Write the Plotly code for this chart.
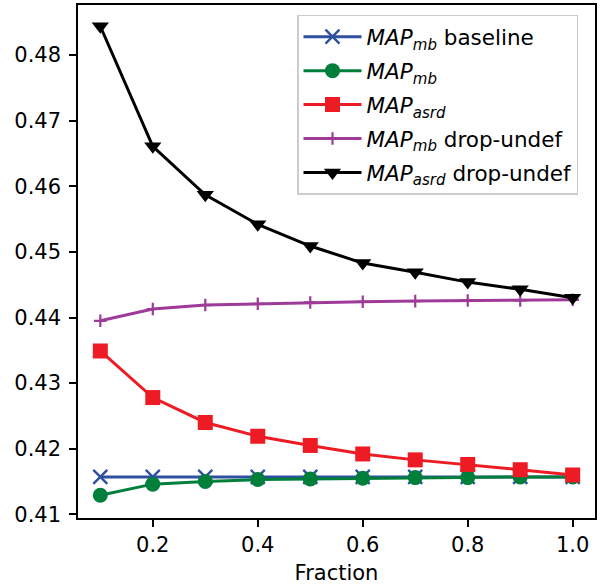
import plotly.graph_objects as go

fraction = [0.1, 0.2, 0.3, 0.4, 0.5, 0.6, 0.7, 0.8, 0.9, 1.0]
map_mb_baseline = [0.4157] * 10
map_mb = [0.4129, 0.4146, 0.4150, 0.4153, 0.4154, 0.4155, 0.4156, 0.4156, 0.4157, 0.4157]
map_asrd = [0.4349, 0.4278, 0.4240, 0.4219, 0.4205, 0.4192, 0.4183, 0.4176, 0.4168, 0.4160]
map_mb_drop = [0.4395, 0.4413, 0.4419, 0.4421, 0.4423, 0.4424, 0.4425, 0.4426, 0.4426, 0.4427]
map_asrd_drop = [0.4844, 0.4661, 0.4587, 0.4542, 0.4509, 0.4483, 0.4469, 0.4454, 0.4443, 0.4430]

x_ticks = [0.2, 0.4, 0.6, 0.8, 1.0]
y_ticks = [0.41, 0.42, 0.43, 0.44, 0.45, 0.46, 0.47, 0.48]

series = [
    ("<i>MAP</i><sub><i>mb</i></sub> baseline", map_mb_baseline, "#2F4FA0",
     dict(symbol="x-thin", size=14, line=dict(width=2.4, color="#2F4FA0"))),
    ("<i>MAP</i><sub><i>mb</i></sub>", map_mb, "#007F3B",
     dict(symbol="circle", size=15, line=dict(width=0))),
    ("<i>MAP</i><sub><i>asrd</i></sub>", map_asrd, "#ED1C24",
     dict(symbol="square", size=15, line=dict(width=0))),
    ("<i>MAP</i><sub><i>mb</i></sub> drop-undef", map_mb_drop, "#9E3A98",
     dict(symbol="cross-thin", size=9, line=dict(width=2.2, color="#9E3A98"))),
    ("<i>MAP</i><sub><i>asrd</i></sub> drop-undef", map_asrd_drop, "#000000",
     dict(symbol="triangle-down", size=15, line=dict(width=0))),
]

fig = go.Figure()
for i, (name, ys, color, mk) in enumerate(series):
    mk = dict(mk)
    mk["color"] = color
    fig.add_trace(go.Scatter(
        x=fraction, y=ys, mode="lines+markers", name=name,
        line=dict(color=color, width=3), marker=mk,
        legendgroup=f"g{i}",
    ))

axis_common = dict(
    showline=True, linecolor="black", linewidth=1.5, mirror=True,
    ticks="outside", ticklen=7, tickwidth=1.5, tickcolor="black",
    showgrid=False, zeroline=False, automargin=False,
    tickfont=dict(size=21, color="black", family="DejaVu Sans"),
)

fig.update_xaxes(range=[0.0575, 1.0425], tickvals=x_ticks,
                 ticktext=[f"{v:.1f}" for v in x_ticks], ticklabelstandoff=0,
                 title=dict(text="Fraction", font=dict(size=21, color="black", family="DejaVu Sans")),
                 **axis_common)
fig.update_yaxes(range=[0.40944, 0.48764], tickvals=y_ticks,
                 ticktext=[f"{v:.2f}" for v in y_ticks], ticklabelstandoff=4,
                 **axis_common)

fig.update_layout(
    template="none",
    width=602, height=585,
    margin=dict(l=78, r=7, t=5, b=67),
    paper_bgcolor="white", plot_bgcolor="white",
    font=dict(family="DejaVu Sans", size=21, color="black"),
    showlegend=True,
    legend=dict(
        x=0.4236, y=0.981, xanchor="left", yanchor="top",
        bgcolor="rgba(255,255,255,0.8)", bordercolor="#CCCCCC", borderwidth=1.5,
        font=dict(size=21.5, family="DejaVu Sans", color="black"),
        tracegroupgap=3, itemwidth=58,
    ),
)

fig.write_html("out.html", config={"displayModeBar": False},
               post_script="document.body.style.margin='0px';")
